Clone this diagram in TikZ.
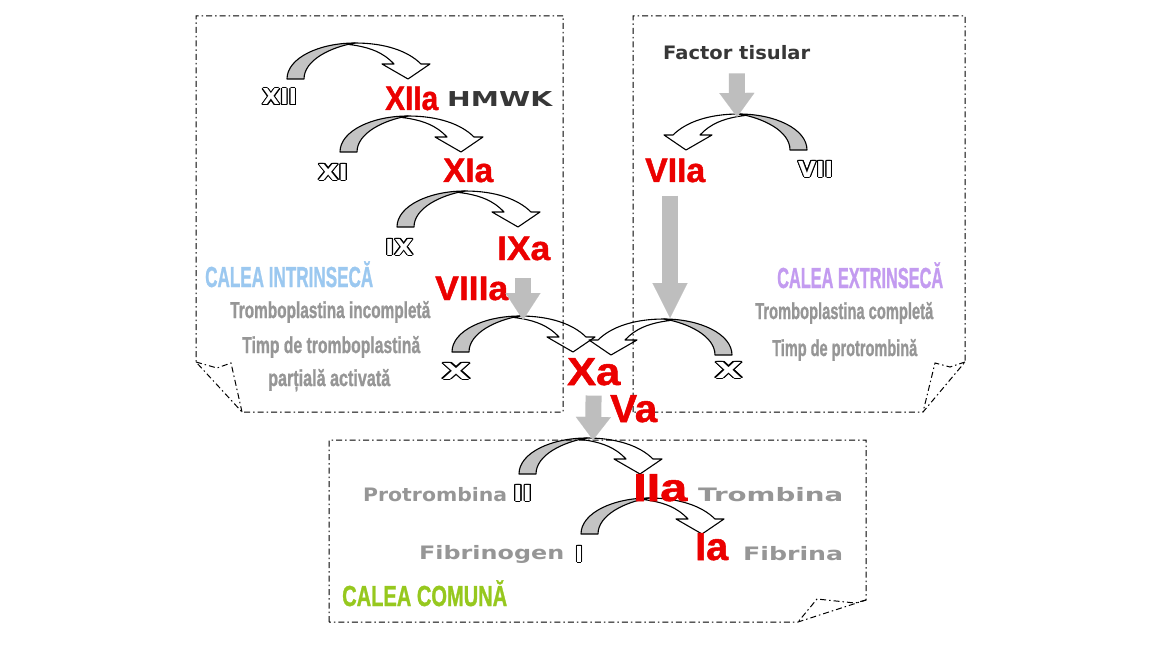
\documentclass[tikz,border=0pt]{standalone}
\usepackage{fontspec}
\setmainfont{Liberation Sans}
\newfontfamily\widefont{DejaVu Sans}
\newfontfamily\heavyfont{Liberation Sans}[BoldFeatures={FakeBold=1.3}]
\usepackage{graphicx}
\usepackage{contour}
\contourlength{1pt}
\usetikzlibrary{arrows.meta}
\definecolor{labelRed}{RGB}{235,0,0}
\definecolor{txtGray}{RGB}{150,150,150}
\definecolor{darkGray}{RGB}{55,55,55}
\definecolor{ribbonGray}{RGB}{195,195,195}
\definecolor{blockGray}{RGB}{190,190,190}
\definecolor{intrBlue}{RGB}{155,200,240}
\definecolor{extrLilac}{RGB}{195,155,240}
\definecolor{comGreen}{RGB}{150,200,30}
\newcommand{\fitw}[2]{\resizebox{#1pt}{\height}{#2}}
\pgfdeclarelayer{back}
\pgfsetlayers{back,main}

\tikzset{
    ribbon/.style={draw=black, line width=1.1pt, line join=round},
    carrow/.pic={
        \begin{scope}[yscale=-1]
            % front of the ribbon with the head
            \filldraw[ribbon, fill=white]
                (68,36) .. controls (98,36) and (121,28) .. (134,15)
                -- (143,15) -- (121,0) -- (95,15) -- (107,15)
                .. controls (97,26) and (83,32) .. (62,34.5) -- cycle;
            % back of the ribbon at the tail
            \filldraw[ribbon, fill=ribbonGray]
                (0,0) .. controls (0,21) and (32,36) .. (68,36)
                .. controls (44,32) and (17,19) .. (17,0) -- cycle;
        \end{scope}
    },
    blockarrow/.style={draw=blockGray, line width=16pt,
        -{Triangle[width=35pt, length=#1, line width=0.1pt]}},
    blockarrow/.default=27pt,
    boxline/.style={draw=black, line width=1pt,
        dash pattern=on 6pt off 3pt on 1.5pt off 3pt},
    lbl/.style={anchor=base west, inner sep=0pt},
    redlbl/.style={lbl, text=labelRed, font=\fontsize{34}{34}\selectfont\heavyfont\bfseries},
    redbig/.style={lbl, text=labelRed, font=\fontsize{39}{39}\selectfont\heavyfont\bfseries},
    hollow/.style={lbl, text=white, font=\fontsize{22}{22}\selectfont\widefont\bfseries},
    wide/.style={lbl, text=txtGray, font=\fontsize{18.5}{18.5}\selectfont\widefont\bfseries},
    narrow/.style={lbl, text=txtGray, font=\fontsize{23}{23}\selectfont\heavyfont\bfseries},
    pathtitle/.style={lbl, font=\fontsize{29}{29}\selectfont\heavyfont\bfseries}
}

\begin{document}
\begin{tikzpicture}[x=1pt, y=-1pt]

% =========================
% 1. curved arrows and frames
% =========================
\begin{pgfonlayer}{back}
    \fill[white] (0,0) rectangle (1150,647);

    \pic at (287,79) {carrow};
    \pic at (340,152) {carrow};
    \pic at (397,227) {carrow};
    \pic at (452,352) {carrow};
    \pic[xscale=-1] at (807,150) {carrow};
    \pic[xscale=-1] at (732,355) {carrow};
    \pic at (519,474) {carrow};
    \pic at (581,534) {carrow};

    % intrinsic frame
    \draw[boxline] (563,16) -- (196,16) -- (196,362) -- (242,412) -- (563,412) -- cycle;
    \draw[boxline] (196,362) -- (217,368) -- (231,363) -- (242,412);
    % extrinsic frame
    \draw[boxline] (633,412) -- (633,16) -- (965,16) -- (965,362) -- (923,412) -- cycle;
    \draw[boxline] (965,362) -- (950,367) -- (935,363) -- (923,412);
    % common frame
    \draw[boxline] (329,622) -- (329,440) -- (866,440) -- (866,600) -- (798,622) -- cycle;
    \draw[boxline] (866,600) -- (855,603) -- (817,599) -- (798,622);
\end{pgfonlayer}

% =========================
% 2. intrinsic pathway
% =========================
\node[hollow] (xii) at (262,105) {\fitw{35}{\contour{black}{XII}}};
\node[redlbl] (xiia) at (385,110) {\fitw{53}{XIIa}};
\node[lbl, text=darkGray, font=\fontsize{20.5}{20.5}\selectfont\widefont\bfseries]
    (hmwk) at (447,107) {\fitw{105}{HMWK}};
\node[hollow] (xi) at (318,180) {\fitw{30}{\contour{black}{XI}}};
\node[redlbl] (xia) at (443,182) {\fitw{50}{XIa}};
\node[hollow] (ix) at (385,255) {\fitw{28}{\contour{black}{IX}}};
\node[redlbl] (ixa) at (497,260) {\fitw{53}{IXa}};
\node[redlbl] (viiia) at (435,300) {\fitw{73}{VIIIa}};
\node[hollow] (xl) at (442,379) {\fitw{28}{\contour{black}{X}}};

\node[pathtitle, text=intrBlue] (intr) at (205,287) {\fitw{168}{CALEA INTRINSECĂ}};
\node[narrow] (tinc) at (230,318) {\fitw{200}{Tromboplastina incompletă}};
\node[narrow] (ttp) at (242,353) {\fitw{178}{Timp de tromboplastină}};
\node[narrow] (pact) at (268,386) {\fitw{122}{parțială activată}};

% =========================
% 3. extrinsic pathway
% =========================
\node[lbl, text=darkGray, font=\fontsize{18.5}{18.5}\selectfont\widefont\bfseries]
    (factor) at (663,60) {\fitw{147}{Factor tisular}};
\node[redlbl] (viia) at (645,182) {\fitw{60}{VIIa}};
\node[hollow] (vii) at (798,177) {\fitw{35}{\contour{black}{VII}}};
\node[hollow] (xr) at (715,378) {\fitw{27}{\contour{black}{X}}};

\node[pathtitle, text=extrLilac] (extr) at (777,288) {\fitw{166}{CALEA EXTRINSECĂ}};
\node[narrow] (tcomp) at (755,319) {\fitw{178}{Tromboplastina completă}};
\node[narrow] (tprot) at (772,356) {\fitw{145}{Timp de protrombină}};

% =========================
% 4. common pathway
% =========================
\node[redbig] (xa) at (567,385) {\fitw{53}{Xa}};
\node[redbig] (va) at (610,422) {\fitw{47}{Va}};
\node[wide] (protr) at (363,501) {\fitw{144}{Protrombina}};
\node[hollow] (ii) at (513,501) {\fitw{19}{\contour{black}{II}}};
\node[redbig] (iia) at (633,501) {\fitw{54}{IIa}};
\node[wide] (tromb) at (698,501) {\fitw{145}{Trombina}};
\node[wide] (fibrg) at (419,559) {\fitw{145}{Fibrinogen}};
\node[hollow] (fi) at (575,562) {\fitw{8}{\contour{black}{I}}};
\node[redbig] (ia) at (695,560) {\fitw{33}{Ia}};
\node[wide] (fibr) at (743,560) {\fitw{100}{Fibrina}};
\node[pathtitle, text=comGreen] (comun) at (342,606) {\fitw{165}{CALEA COMUNĂ}};

% gray activation arrows
\coordinate (tfTip) at (737,117);
\coordinate (viiaTip) at (670,318);
\coordinate (viiiaTop) at (523,278);
\coordinate (viiiaTip) at (523,320);
\coordinate (comTip) at (593,440);
\draw[blockarrow=24pt, shorten <=13pt] (factor.south) -- (tfTip);
\draw[blockarrow=35pt, shorten <=13pt] (viia.south -| viiaTip) -- (viiaTip);
\draw[blockarrow] (viiiaTop) -- (viiiaTip);
\draw[blockarrow=23pt, shorten <=10pt] (xa.south) -- (comTip);

\end{tikzpicture}
\end{document}
